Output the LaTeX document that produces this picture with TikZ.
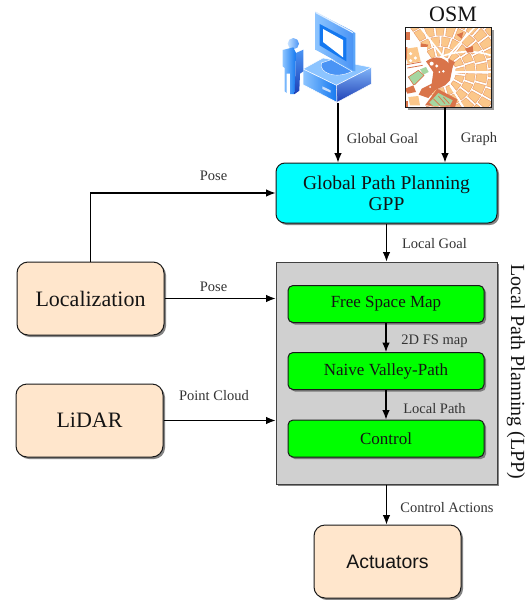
\documentclass[tikz,border=0pt]{standalone}
\usepackage{fontspec}
\setmainfont{Liberation Serif}
\newfontfamily\sansf{Liberation Sans}
\usetikzlibrary{arrows.meta,shadows,calc}
\definecolor{peach}{HTML}{FFE6CC}
\definecolor{lppgray}{HTML}{D0D0D0}
\definecolor{cyanbox}{HTML}{00FFFF}
\definecolor{greenbox}{HTML}{00FF00}
\definecolor{mapl}{HTML}{FBC78A}
\definecolor{mapd}{HTML}{D9744A}
\definecolor{mapg}{HTML}{A5D6A0}
\definecolor{iconl}{HTML}{8CC4FF}
\definecolor{iconm}{HTML}{4A94F5}
\definecolor{icond}{HTML}{1E3FB5}
\definecolor{iconb}{HTML}{1478F0}
\tikzset{
  x=1pt,y=-1pt,
  softshadow/.style={drop shadow={shadow xshift=2pt,shadow yshift=-2pt,fill=black!60,opacity=.8}},
  basebox/.style={draw=black!90,line width=1pt,softshadow,align=center,inner sep=0pt,text=black!92},
  inputbox/.style={basebox,fill=peach,minimum width=147pt,minimum height=73pt,rounded corners=11pt,font=\fontsize{22}{25}\selectfont},
  gppbox/.style={basebox,fill=cyanbox,minimum width=221pt,minimum height=60pt,rounded corners=9pt,font=\fontsize{19.5}{21}\selectfont},
  subbox/.style={basebox,fill=greenbox,minimum width=196pt,minimum height=37pt,rounded corners=5pt,font=\fontsize{17}{19}\selectfont},
  lppbox/.style={draw=black!75,line width=1pt,fill=lppgray,minimum width=221pt,minimum height=222pt,softshadow,inner sep=0pt},
  flow/.style={draw=black,line width=1.05pt,-{Latex[length=9.5pt,width=7.5pt]}},
  edgelab/.style={font=\fontsize{14.5}{16}\selectfont,text=black!80,inner sep=0pt},
  mapblock/.style={fill=mapl,draw=mapd!70!mapl,line width=.3pt},
  iconedge/.style={draw=white,line width=.5pt,line join=round},
}
\begin{document}
\begin{tikzpicture}
\useasboundingbox (0,0) rectangle (531,600);
% boxes
\node[gppbox] (gpp) at (386.5,193) {Global Path Planning\\GPP};
\node[lppbox] (lpp) at (386.5,373) {};
\node[inputbox] (loc) at (90.5,298.5) {Localization};
\node[inputbox] (lidar) at (89.5,420.5) {LiDAR};
\node[inputbox,font=\sansf\fontsize{19.5}{22}\selectfont] (act) at (387.5,561.5) {Actuators};
\node[subbox] (fsm) at (386,304) {Free Space Map};
\node[subbox] (nvp) at (386,371) {Naive Valley-Path};
\node[subbox] (ctl) at (386,438.5) {Control};
\node[font=\fontsize{20}{22}\selectfont,rotate=-90,inner sep=0pt,text=black!92] (lpplab) at (516,372) {Local Path Planning (LPP)};
\node[font=\fontsize{22}{24}\selectfont,inner sep=0pt,text=black!92] (osm) at (453,14) {OSM};
% computer icon
\begin{scope}[shift={(278,8)},scale=1/3]
  % base
  \path[fill=iconl,iconedge] (75,183) -- (135,150) -- (280,178) -- (175,232) -- cycle;
  \path[left color=iconl,right color=iconb,iconedge] (75,183) -- (175,232) -- (177,283) -- (75,230) -- cycle;
  \path[top color=iconm!70!white,bottom color=icond,iconedge] (175,232) -- (280,178) -- (280,228) -- (177,283) -- cycle;
  \path[fill=white!70!iconm] (133,235) -- (158,247) -- (158,254) -- (133,243) -- cycle;
  \path[fill=iconm,draw=white,line width=.4pt] (130,165) .. controls (122,195) and (175,215) .. (222,190) -- (160,155) -- cycle;
  % monitor
  \path[fill=iconl!60!iconb] (112,12) -- (232,75) -- (232,190) -- (222,188) -- (112,122) -- cycle;
  \path[left color=iconl,right color=iconm] (112,12) -- (225,70) -- (225,186) -- (112,125) -- cycle;
  \path[fill=iconb] (125,48) -- (205,90) -- (205,160) -- (125,112) -- cycle;
  \path[fill=white] (135,63) -- (195,96) -- (195,148) -- (135,102) -- cycle;
  \path[fill=iconl!30!white] (112,10) -- (225,72) -- (225,76) -- (112,15) -- cycle;
  % person
  \path[left color=iconl!50!white,right color=iconm] (46,107) circle (17);
  \path[left color=iconl,right color=iconb] (14,126) -- (46,118) -- (54,135) -- (52,197) -- (50,258) -- (36,258) -- (36,197) -- (26,197) -- (26,255) -- (20,250) -- (20,180) -- (14,175) -- cycle;
  \path[top color=iconm,bottom color=icond] (54,135) -- (76,125) -- (76,190) -- (66,197) -- (64,248) -- (50,258) -- (52,197) -- cycle;
\end{scope}
\coordinate (iconout) at (338,103);
% OSM map
\path[fill=black!40] (408,30) rectangle (494,110);
\begin{scope}
  \clip (405,27) rectangle (491,107);
  \fill[white] (405,27) rectangle (491,107);
  \begin{scope}[shift={(400,22)},scale=1/3]
    % ring-and-sector blocks round the plaza
    \foreach \ra/\rb/\st in {48/74/22,78/106/18,110/142/14,146/180/11,184/222/9}{
      \pgfmathsetmacro{\ma}{200/\ra}
      \pgfmathsetmacro{\mb}{200/\rb}
      \pgfmathsetmacro{\nxt}{-125+\st}
      \foreach \a in {-125,\nxt,...,105}{
        \path[mapblock] (120,150) ++(\a+\ma:\ra) -- ($(120,150)+(\a+\st-\ma:\ra)$) -- ($(120,150)+(\a+\st-\mb:\rb)$) -- ($(120,150)+(\a+\mb:\rb)$) -- cycle;
      }
    }
    % main avenues
    \path[draw=white,line width=1.7pt] (120,105) .. controls (170,85) and (230,85) .. (272,100);
    \path[draw=white,line width=1.7pt] (60,15) -- (130,105);
    \path[draw=white,line width=1.7pt] (165,150) -- (272,150);
    \path[draw=white,line width=1.7pt] (150,190) -- (190,255);
    \path[draw=white,line width=1.5pt] (225,15) -- (145,100);
    % north west
    \fill[mapd] (15,30) rectangle (30,55);
    \fill[mapd] (62,64) -- (85,68) -- (80,78) -- (62,78) -- cycle;
    % west side
    \fill[white] (15,75) rectangle (80,195);
    \fill[mapl] (20,80) -- (52,75) -- (62,118) -- (22,125) -- cycle;
    \foreach \p in {(32,95),(46,108),(32,116)} \fill[white] \p circle (5);
    \fill[mapd] (15,75) -- (22,75) -- (20,115) -- (15,115) -- cycle;
    \draw[mapd,line width=.8pt] (20,128) -- (64,120) (22,138) -- (68,130);
    \fill[mapg] (25,165) -- (55,145) -- (72,160) -- (42,190) -- cycle;
    \fill[mapg] (60,142) -- (78,135) -- (86,150) -- (70,158) -- cycle;
    \draw[mapd,line width=.6pt] (25,165) -- (55,145) -- (72,160) -- (42,190) -- cycle;
    % south west
    \fill[white] (15,190) rectangle (100,215);
    \fill[white] (15,215) rectangle (75,255);
    \fill[mapd] (15,200) -- (40,190) -- (48,210) -- (22,215) -- cycle;
    \fill[mapl] (25,225) -- (55,222) -- (60,250) -- (30,250) -- cycle;
    \fill[mapd] (15,238) -- (25,238) -- (25,255) -- (15,255) -- cycle;
    % south park
    \fill[mapd] (75,250) -- (112,200) -- (172,232) -- (165,255) -- cycle;
    \fill[mapg] (88,242) -- (115,213) -- (158,235) -- (150,250) -- (100,252) -- cycle;
    \draw[mapd,line width=.7pt] (100,230) -- (120,250) (115,222) -- (135,245) (130,225) -- (148,245);
    % central plaza
    \fill[mapd] (78,118) .. controls (95,105) and (120,100) .. (140,118)
       -- (158,135) -- (150,175) -- (135,190) -- (105,205) -- (85,228) -- (56,218) -- (65,200) -- (95,185) -- (100,150) -- cycle;
    \foreach \p/\q in {(95,125)/6,(110,132)/5,(118,150)/3,(130,148)/4,(90,195)/3}
      \fill[white] \p circle (\q);
    % small dark blocks
    \fill[mapd] (170,38) -- (190,30) -- (185,50) -- cycle;
    \fill[mapd] (195,80) -- (218,72) -- (220,90) -- (202,92) -- cycle;
    \fill[mapd] (145,110) -- (165,120) -- (155,140) -- (145,130) -- cycle;
  \end{scope}
\end{scope}
\draw[black!90,line width=1pt] (405,27) rectangle (491,107);
\coordinate (mapout) at (445,107);
% connectors
\draw[flow] (iconout) -- (iconout |- gpp.north);
\draw[flow] (mapout) -- (mapout |- gpp.north);
\draw[flow] (gpp.south -| lpp.north) -- (lpp.north);
\draw[flow] (loc.north) |- (gpp.west);
\draw[flow] (loc.east) -- (loc.east -| lpp.west);
\draw[flow] (lidar.east) -- (lidar.east -| lpp.west);
\draw[flow] (fsm.south) -- (nvp.north);
\draw[flow] (nvp.south) -- (ctl.north);
\draw[flow] (lpp.south) -- (lpp.south |- act.north);
% labels
\node[edgelab] (l1) at (382.5,139) {Global Goal};
\node[edgelab] (l2) at (479,139) {Graph};
\node[edgelab] (l3) at (213.5,175.5) {Pose};
\node[edgelab] (l4) at (213.5,286.5) {Pose};
\node[edgelab] (l5) at (434.5,244) {Local Goal};
\node[edgelab] (l6) at (214,396) {Point Cloud};
\node[edgelab] (l7) at (434.5,341) {2D FS map};
\node[edgelab] (l8) at (434.5,409) {Local Path};
\node[edgelab] (l9) at (447,507.5) {Control Actions};
\end{tikzpicture}
\end{document}
